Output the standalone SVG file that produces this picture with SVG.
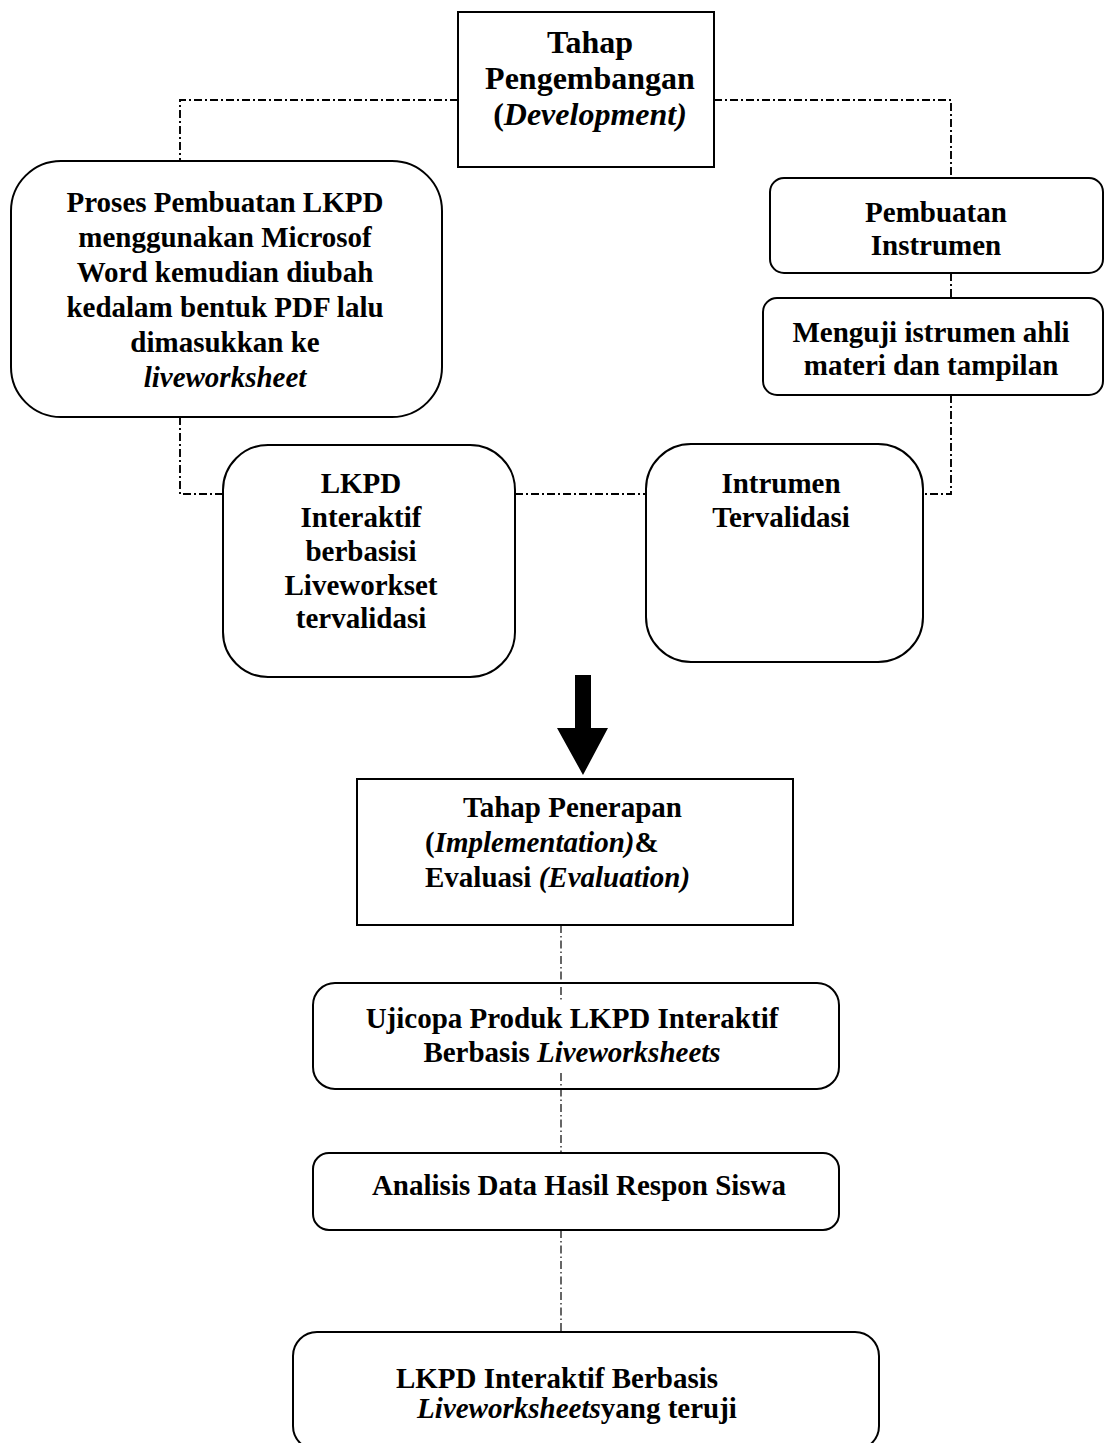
<svg xmlns="http://www.w3.org/2000/svg" width="1105" height="1443" viewBox="0 0 1105 1443">
<style>
.box{fill:#fff;stroke:#000;stroke-width:2}
.t{font-family:"Liberation Serif","Times New Roman",Times,serif;font-weight:bold;font-size:29px;fill:#000}
.c{text-anchor:middle}
.i{font-style:italic}
.dd{fill:none;stroke:#000;stroke-width:1.9;stroke-dasharray:8 3 2 3}
.dt{fill:none;stroke:#000;stroke-width:1.2;stroke-dasharray:8 3 1.5 3}
</style>
<rect width="1105" height="1443" fill="#fff"/>
<g id="connectors">
<path class="dd" d="M458 100 H180 V160"/>
<path class="dd" d="M714 100 H951 V178"/>
<path class="dd" d="M951 273 V298"/>
<path class="dd" d="M951 395 V494 H923"/>
<path class="dd" d="M180 417 V494 H223"/>
<path class="dd" d="M515 494 H646"/>
<path class="dt" d="M561 925 V1002"/>
<path class="dt" d="M561 1073 V1153"/>
<path class="dt" d="M561 1230 V1332"/>
<path id="big-arrow" d="M575 675 H591 V728 H608 L583 775 L557 728 H575 Z" fill="#000"/>
</g>
<g id="n-development">
<rect class="box" x="458" y="12" width="256" height="155"/>
<text class="t c" x="590" y="53" style="font-size:32px">Tahap</text>
<text class="t c" x="590" y="89" style="font-size:32px">Pengembangan</text>
<text class="t c" x="590" y="125" style="font-size:32px">(<tspan class="i">Development)</tspan></text>
</g>
<g id="n-proses">
<rect class="box" x="11" y="161" width="431" height="256" rx="50"/>
<text class="t c" x="225" y="212">Proses Pembuatan LKPD</text>
<text class="t c" x="225" y="247">menggunakan Microsof</text>
<text class="t c" x="225" y="282">Word kemudian diubah</text>
<text class="t c" x="225" y="317">kedalam bentuk PDF lalu</text>
<text class="t c" x="225" y="352">dimasukkan ke</text>
<text class="t c i" x="225" y="387">liveworksheet</text>
</g>
<g id="n-pembuatan">
<rect class="box" x="770" y="178" width="333" height="95" rx="14"/>
<text class="t c" x="936" y="222">Pembuatan</text>
<text class="t c" x="936" y="255">Instrumen</text>
</g>
<g id="n-menguji">
<rect class="box" x="763" y="298" width="340" height="97" rx="14"/>
<text class="t c" x="931" y="342">Menguji istrumen ahli</text>
<text class="t c" x="931" y="375">materi dan tampilan</text>
</g>
<g id="n-lkpd">
<rect class="box" x="223" y="445" width="292" height="232" rx="45"/>
<text class="t c" x="361" y="493">LKPD</text>
<text class="t c" x="361" y="527">Interaktif</text>
<text class="t c" x="361" y="561">berbasisi</text>
<text class="t c" x="361" y="595">Liveworkset</text>
<text class="t c" x="361" y="628">tervalidasi</text>
</g>
<g id="n-intrumen">
<rect class="box" x="646" y="444" width="277" height="218" rx="45"/>
<text class="t c" x="781" y="493">Intrumen</text>
<text class="t c" x="781" y="527">Tervalidasi</text>
</g>
<g id="n-penerapan">
<rect class="box" x="357" y="779" width="436" height="146"/>
<text class="t" x="463" y="817">Tahap Penerapan</text>
<text class="t" x="425" y="852">(<tspan class="i">Implementation)</tspan>&amp;</text>
<text class="t" x="425" y="887">Evaluasi <tspan class="i">(Evaluation)</tspan></text>
</g>
<g id="n-ujicopa">
<rect x="313" y="983" width="526" height="106" rx="22" fill="none" stroke="#000" stroke-width="2"/>
<text class="t c" x="572" y="1028">Ujicopa Produk LKPD Interaktif</text>
<text class="t c" x="572" y="1062">Berbasis <tspan class="i">Liveworksheets</tspan></text>
</g>
<g id="n-analisis">
<rect class="box" x="313" y="1153" width="526" height="77" rx="16"/>
<text class="t c" x="579" y="1195">Analisis Data Hasil Respon Siswa</text>
</g>
<g id="n-teruji">
<rect class="box" x="293" y="1332" width="586" height="118" rx="24"/>
<text class="t c" x="557" y="1388">LKPD Interaktif Berbasis</text>
<text class="t c" x="577" y="1418"><tspan class="i">Liveworksheets</tspan>yang teruji</text>
</g>
</svg>
